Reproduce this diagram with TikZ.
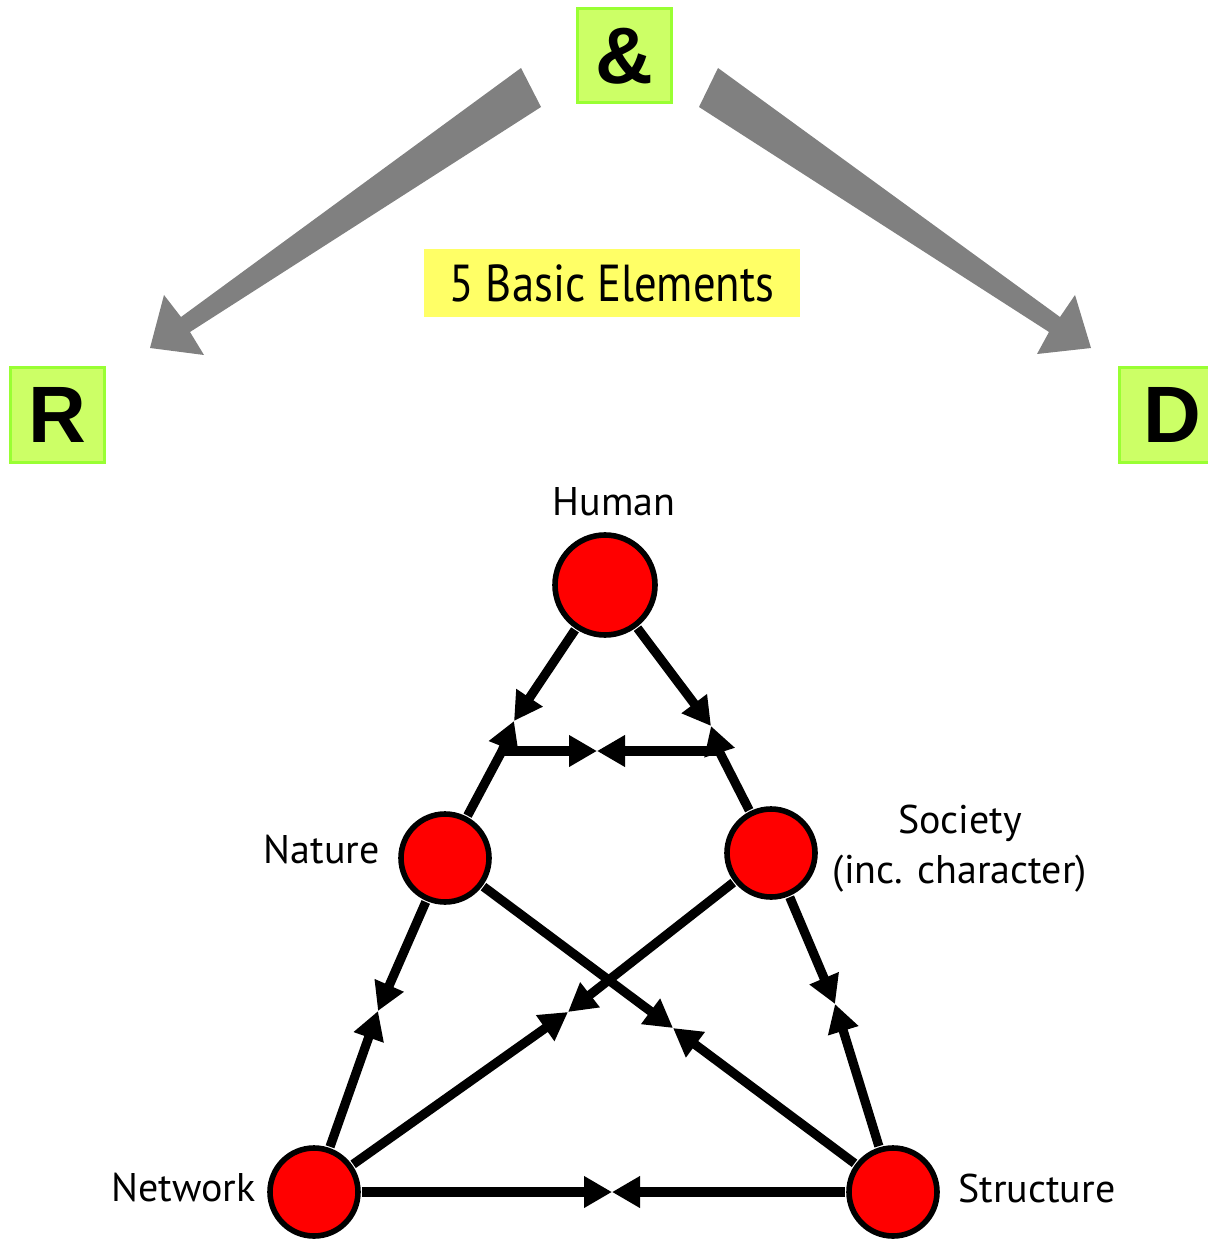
\documentclass[tikz,border=0pt]{standalone}
\usepackage{fontspec}
\setmainfont{PT Sans}
\newfontfamily\tagfont{Liberation Sans}
\newfontfamily\narrowfont[FakeStretch=0.86]{PT Sans}
\usetikzlibrary{arrows.meta,positioning}
\definecolor{tagfill}{RGB}{204,255,102}
\definecolor{tagline}{RGB}{153,255,51}
\definecolor{notefill}{RGB}{255,255,102}
\definecolor{elemred}{RGB}{255,0,0}
\definecolor{bigarr}{RGB}{128,128,128}

\begin{document}
\begin{tikzpicture}[x=0.5pt,y=-0.5pt,
  tag/.style={draw=tagline,line width=1.5pt,fill=tagfill,minimum size=47pt,inner sep=0pt,font=\tagfont\bfseries\fontsize{40}{40}\selectfont},
  elem/.style={circle,draw,line width=2.8pt,fill=elemred,minimum size=44pt,inner sep=0pt,outer sep=2pt},
  lab/.style={font=\fontsize{20}{25}\selectfont,align=center,inner sep=0pt},
  link/.style={line width=4.6pt},
  half/.style={link,-{Triangle[length=14pt,width=15pt]}}]
  \useasboundingbox (0,0) rectangle (1207,1240);

  \fill[bigarr] (521,68) -- (541,107) -- (190,332) -- (204,355) -- (150,348) -- (164,295) -- (181,317) -- cycle;
  \fill[bigarr] (718,68) -- (699,107) -- (1049,332) -- (1037,354) -- (1091,348) -- (1075,295) -- (1060,317) -- cycle;

  \node[tag] (amp) at (624.5,56) {\&};
  \node[tag] (r) at (57,415) {R};
  \node[tag] (d) at (1166,415) {\hspace{6pt}D};
  \node[fill=notefill,minimum width=188pt,minimum height=34pt,inner sep=0pt,font=\narrowfont\fontsize{26}{26}\selectfont] (basic) at (612,283) {5 Basic Elements};

  \node[elem,minimum size=50pt] (human) at (605,585) {};
  \node[elem] (nature) at (445,858) {};
  \node[elem] (society) at (771,853) {};
  \node[elem] (network) at (314,1192) {};
  \node[elem] (structure) at (893,1192) {};

  \node[lab] (humanlab) at (614,502) {Human};
  \node[lab,anchor=east] (naturelab) at (380,850) {Nature};
  \node[lab] (societylab) at (960,849) {Society\\(inc. character)};
  \node[lab,anchor=east] (networklab) at (256,1188) {Network};
  \node[lab,anchor=west] (structurelab) at (958,1188) {Structure};

  \coordinate (mHN) at (514,721);
  \coordinate (mHS) at (711,726);
  \coordinate (cL) at (502,751);
  \coordinate (cR) at (719,751);
  \coordinate (mTop) at (597,751);
  \coordinate (mNW) at (378,1011);
  \coordinate (mSS) at (835,1004);
  \coordinate (mSN) at (568,1012);
  \coordinate (mNS) at (673,1028);
  \coordinate (mWS) at (612,1192);

  \draw[half] (human) -- (mHN);
  \draw[half] (nature) -- (cL) -- (mHN);
  \draw[half] (human) -- (mHS);
  \draw[half] (society) -- (cR) -- (mHS);
  \draw[half] (cL) -- (mTop);
  \draw[half] (cR) -- (mTop);
  \foreach \a/\b/\m in {nature/network/mNW, society/structure/mSS, society/network/mSN, nature/structure/mNS, network/structure/mWS} {
    \draw[half] (\a) -- (\m);
    \draw[half] (\b) -- (\m);
  }
\end{tikzpicture}
\end{document}
